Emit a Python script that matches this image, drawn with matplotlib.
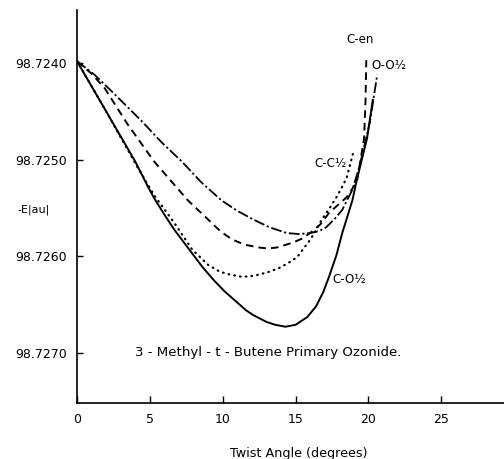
import matplotlib
matplotlib.use("Agg")
import matplotlib.pyplot as plt
from matplotlib.ticker import FormatStrFormatter

plt.rcParams['font.family'] = ['DejaVu Sans']

# C-O1/2 (solid)
co_x = [0, 1, 2, 3, 4, 4.9, 5.3, 6.0, 6.7, 7.7, 8.6, 9.4, 10.1, 11.0, 11.6, 12.1, 13.0, 13.6, 14.3,
        15.0, 15.8, 16.4, 16.9, 17.3, 17.8, 18.2, 18.9, 19.2, 19.9, 20.3]
co_y = [98.72398, 98.72424, 98.72450, 98.72476, 98.72502, 98.72529, 98.72540, 98.72557, 98.72573,
        98.72593, 98.72611, 98.72625, 98.72636, 98.72648, 98.72656, 98.72661, 98.72668, 98.72671,
        98.72673, 98.72671, 98.72663, 98.72652, 98.72637, 98.72621, 98.72599, 98.72576, 98.72542,
        98.72521, 98.72478, 98.72438]

# C-en (dashed)
cen_x = [0, 1, 1.9, 3.5, 5.3, 7.6, 9.0, 9.9, 10.7, 11.5, 12.5, 13.1, 13.7, 14.8, 15.4, 16.0, 16.7,
         17.3, 17.9, 18.5, 19.2, 19.7, 19.8, 19.85]
cen_y = [98.72398, 98.72411, 98.72426, 98.72464, 98.72502, 98.72542, 98.72562, 98.72575, 98.72583,
         98.72588, 98.72591, 98.72592, 98.72591, 98.72586, 98.72582, 98.72576, 98.72567, 98.72555,
         98.72547, 98.72539, 98.72523, 98.72478, 98.72438, 98.72397]

# O-O1/2 (dash-dot)
oo_x = [0, 1.2, 2.5, 4.5, 5.8, 7.2, 8.5, 9.9, 11.0, 12.1, 13.2, 14.4, 15.2, 16.0, 16.6, 17.1, 17.7,
        18.2, 18.9, 19.4, 20.1, 20.6]
oo_y = [98.72398, 98.72412, 98.72431, 98.72461, 98.72482, 98.72502, 98.72523, 98.72542, 98.72553,
        98.72562, 98.72570, 98.72576, 98.72577, 98.72576, 98.72574, 98.72570, 98.72561, 98.72552,
        98.72531, 98.72506, 98.72461, 98.72412]

# C-C1/2 (dotted)
cc_x = [0, 2, 4.2, 5.3, 6.7, 7.9, 9.0, 9.8, 10.5, 11.2, 11.8, 12.5, 13.2, 13.9, 14.5, 15.1, 15.6,
        16.0, 16.4, 16.8, 17.3, 17.8, 18.2, 18.5, 19.0]
cc_y = [98.72398, 98.72450, 98.72509, 98.72537, 98.72566, 98.72593, 98.72609, 98.72616, 98.72619,
        98.72621, 98.72621, 98.72619, 98.72616, 98.72612, 98.72607, 98.72601, 98.72591, 98.72583,
        98.72573, 98.72562, 98.72551, 98.72539, 98.72528, 98.72519, 98.72490]

x_ticks = [0, 5, 10, 15, 20, 25]
y_ticks = [98.7240, 98.7250, 98.7260, 98.7270]

fig = plt.figure(figsize=(5.04, 4.59), dpi=100)
ax = fig.add_axes([77/504, 1-403/459, 1-77/504, (403-10)/459])

ax.plot(co_x, co_y, color='black', lw=1.4, ls='-')
ax.plot(cen_x, cen_y, color='black', lw=1.4, dashes=(3.9, 2.6))
ax.plot(oo_x, oo_y, color='black', lw=1.3, dashes=(6, 1.5, 1.2, 1.5))
ax.plot(cc_x, cc_y, color='black', lw=1.6, dashes=(0.3, 2.3), dash_capstyle='round')

ax.set_xlim(0, 29.3)
ax.set_ylim(98.72752, 98.72345)
ax.set_xticks(x_ticks)
ax.set_yticks(y_ticks)
ax.yaxis.set_major_formatter(FormatStrFormatter('%.4f'))
ax.tick_params(axis='x', direction='in', length=5, width=1, pad=7, labelsize=9)
ax.tick_params(axis='y', direction='in', length=4, width=1, pad=7, labelsize=9)
for s in ['top', 'right']:
    ax.spines[s].set_visible(False)
for s in ['left', 'bottom']:
    ax.spines[s].set_linewidth(1.2)

ax.text(19.45, 98.72376, 'C-en', ha='center', va='center', fontsize=8.5)
ax.text(20.2, 98.72402, 'O-O½', ha='left', va='center', fontsize=8.5)
ax.text(18.5, 98.72504, 'C-C½', ha='right', va='center', fontsize=8.5)
ax.text(17.5, 98.72624, 'C-O½', ha='left', va='center', fontsize=8.5)
ax.text(13.15, 98.7270, '3 - Methyl - t - Butene Primary Ozonide.', ha='center', va='center', fontsize=9.6)

fig.text(17/504, 1-210/459, '-E|au|', ha='left', va='center', fontsize=8)
fig.text(299/504, 1-453/459, 'Twist Angle (degrees)', ha='center', va='center', fontsize=9.2)

fig.savefig('out.png', dpi=100)
